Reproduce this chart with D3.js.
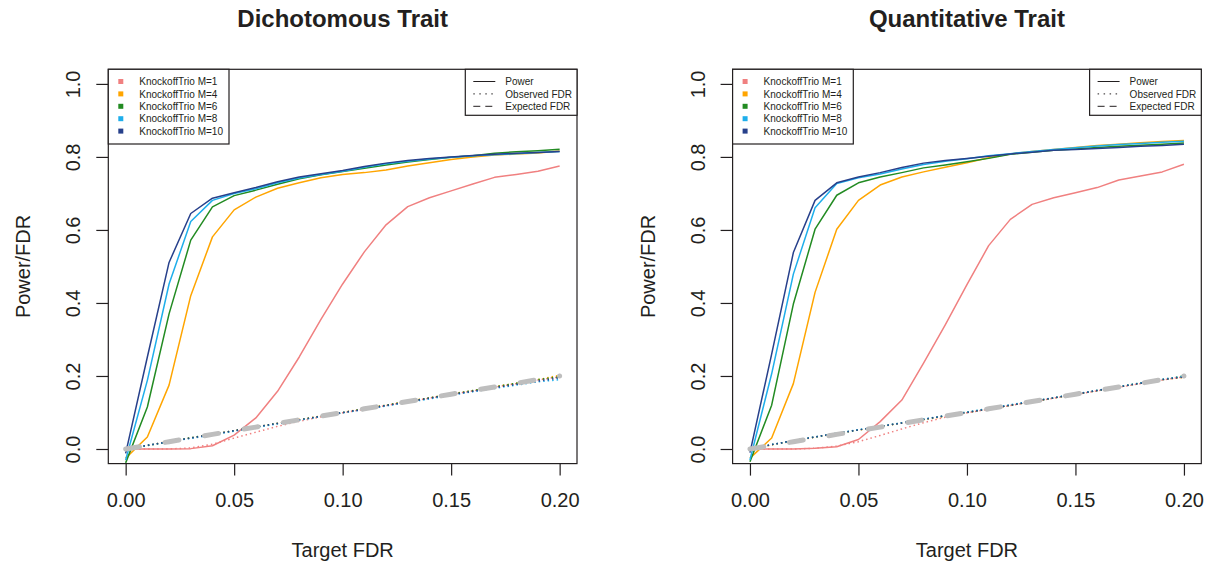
<!DOCTYPE html>
<html>
<head>
<meta charset="utf-8">
<script src="https://cdn.jsdelivr.net/npm/d3@7"></script>
<style>
  body { margin: 0; background: #fff; }
  svg { font-family: "Liberation Sans", Arial, sans-serif; }
</style>
</head>
<body>
<svg width="1212" height="569"></svg>
<script>
// data
const targetFDR = [0, 0.01, 0.02, 0.03, 0.04, 0.05, 0.06, 0.07, 0.08, 0.09, 0.10,
  0.11, 0.12, 0.13, 0.14, 0.15, 0.16, 0.17, 0.18, 0.19, 0.20];
const methods = ["KnockoffTrio M=1", "KnockoffTrio M=4", "KnockoffTrio M=6", "KnockoffTrio M=8", "KnockoffTrio M=10"];
const xTicks = [0, 0.05, 0.10, 0.15, 0.20];
const yTicks = [0, 0.2, 0.4, 0.6, 0.8, 1.0];
const lineTypes = ["Power", "Observed FDR", "Expected FDR"];

const dichPower = [
  [0, 0, 0, 0.001, 0.009, 0.038, 0.085, 0.158, 0.252, 0.355, 0.452, 0.54, 0.614, 0.664, 0.688, 0.707, 0.726, 0.744, 0.752, 0.761, 0.775],
  [-0.025, 0.033, 0.175, 0.42, 0.581, 0.655, 0.69, 0.714, 0.729, 0.743, 0.752, 0.757, 0.764, 0.775, 0.784, 0.793, 0.8, 0.805, 0.808, 0.811, 0.816],
  [-0.038, 0.115, 0.37, 0.572, 0.663, 0.694, 0.709, 0.725, 0.74, 0.751, 0.76, 0.769, 0.778, 0.786, 0.793, 0.799, 0.803, 0.81, 0.814, 0.817, 0.821],
  [-0.03, 0.188, 0.452, 0.623, 0.681, 0.70, 0.713, 0.729, 0.742, 0.752, 0.761, 0.772, 0.781, 0.788, 0.794, 0.799, 0.803, 0.806, 0.809, 0.812, 0.815],
  [-0.012, 0.252, 0.511, 0.645, 0.687, 0.702, 0.716, 0.732, 0.745, 0.754, 0.763, 0.774, 0.783, 0.79, 0.796, 0.80, 0.804, 0.807, 0.81, 0.812, 0.815]
];
const dichFDR = [
  [0, 0, 0, 0.003, 0.013, 0.03, 0.046, 0.062, 0.076, 0.088, 0.099, 0.109, 0.119, 0.129, 0.139, 0.149, 0.159, 0.169, 0.179, 0.189, 0.198],
  [0, 0.01, 0.021, 0.03, 0.041, 0.05, 0.061, 0.07, 0.081, 0.09, 0.1, 0.111, 0.12, 0.131, 0.14, 0.151, 0.16, 0.171, 0.18, 0.19, 0.202],
  [0, 0.009, 0.02, 0.031, 0.04, 0.05, 0.06, 0.07, 0.08, 0.09, 0.1, 0.11, 0.12, 0.13, 0.14, 0.15, 0.16, 0.17, 0.18, 0.19, 0.198],
  [0, 0.01, 0.02, 0.029, 0.039, 0.049, 0.059, 0.069, 0.079, 0.089, 0.099, 0.108, 0.118, 0.128, 0.137, 0.147, 0.157, 0.166, 0.175, 0.184, 0.19],
  [0, 0.01, 0.02, 0.03, 0.04, 0.05, 0.06, 0.07, 0.08, 0.09, 0.1, 0.109, 0.119, 0.129, 0.139, 0.149, 0.158, 0.168, 0.177, 0.186, 0.195]
];
const quantPower = [
  [0, 0, 0, 0.002, 0.006, 0.026, 0.075, 0.134, 0.235, 0.34, 0.45, 0.557, 0.629, 0.67, 0.688, 0.702, 0.716, 0.737, 0.748, 0.759, 0.78],
  [-0.025, 0.03, 0.179, 0.429, 0.602, 0.681, 0.723, 0.745, 0.759, 0.772, 0.784, 0.798, 0.808, 0.815, 0.82, 0.826, 0.831, 0.835, 0.839, 0.842, 0.845],
  [-0.035, 0.12, 0.397, 0.602, 0.695, 0.729, 0.745, 0.757, 0.77, 0.778, 0.787, 0.796, 0.807, 0.813, 0.818, 0.822, 0.826, 0.829, 0.832, 0.835, 0.838],
  [-0.03, 0.206, 0.479, 0.661, 0.727, 0.743, 0.753, 0.767, 0.779, 0.788, 0.795, 0.803, 0.809, 0.815, 0.82, 0.825, 0.83, 0.834, 0.837, 0.84, 0.843],
  [-0.01, 0.26, 0.538, 0.681, 0.729, 0.745, 0.757, 0.771, 0.783, 0.79, 0.796, 0.802, 0.808, 0.813, 0.818, 0.82, 0.823, 0.826, 0.829, 0.831, 0.835]
];
const quantFDR = [
  [0, 0, 0, 0.002, 0.008, 0.02, 0.037, 0.055, 0.072, 0.087, 0.099, 0.109, 0.119, 0.129, 0.139, 0.149, 0.159, 0.169, 0.179, 0.189, 0.198],
  [0, 0.011, 0.022, 0.032, 0.042, 0.052, 0.061, 0.071, 0.08, 0.09, 0.1, 0.11, 0.12, 0.13, 0.14, 0.15, 0.16, 0.17, 0.18, 0.19, 0.196],
  [0, 0.012, 0.023, 0.033, 0.043, 0.052, 0.062, 0.072, 0.081, 0.091, 0.101, 0.11, 0.12, 0.13, 0.14, 0.15, 0.16, 0.171, 0.181, 0.19, 0.2],
  [0, 0.012, 0.022, 0.033, 0.043, 0.053, 0.062, 0.072, 0.082, 0.091, 0.101, 0.111, 0.121, 0.131, 0.141, 0.151, 0.161, 0.171, 0.181, 0.191, 0.199],
  [0, 0.012, 0.023, 0.033, 0.043, 0.052, 0.062, 0.071, 0.081, 0.091, 0.1, 0.11, 0.12, 0.13, 0.14, 0.15, 0.16, 0.17, 0.18, 0.19, 0.197]
];

const colors = ["#F08080", "#FFA500", "#228B22", "#1EAEEB", "#27408B"];
const ink = "#231F20";

const svg = d3.select("svg");

function panel(left, title, power, fdr) {
  const right = left + 468.7;
  const top = 69.3, bottom = 463.6;

  const x = d3.scaleLinear().domain([-0.008, 0.208]).range([left, right]);
  const y = d3.scaleLinear().domain([-0.04, 1.04]).range([bottom, top]);
  const line = d3.line().x((d, i) => x(targetFDR[i])).y(d => y(d));

  const g = svg.append("g");

  // power curves
  power.forEach((p, i) => {
    g.append("path").datum(p)
      .attr("d", line)
      .attr("fill", "none")
      .attr("stroke", colors[i])
      .attr("stroke-width", 1.5)
      .attr("stroke-linejoin", "round");
  });

  // observed FDR
  fdr.forEach((f, i) => {
    g.append("path").datum(f)
      .attr("d", line)
      .attr("fill", "none")
      .attr("stroke", colors[i])
      .attr("stroke-width", 1.5)
      .attr("stroke-dasharray", "1.5 3");
  });

  // expected FDR
  g.append("path").datum(targetFDR)
    .attr("d", line)
    .attr("fill", "none")
    .attr("stroke", "#BEBEBE")
    .attr("stroke-width", 5)
    .attr("stroke-linecap", "round")
    .attr("stroke-dasharray", "14 26");

  // box
  g.append("rect")
    .attr("x", left).attr("y", top)
    .attr("width", right - left).attr("height", bottom - top)
    .attr("fill", "none").attr("stroke", ink).attr("stroke-width", 1.2);

  // x axis
  const xa = g.append("g")
    .attr("transform", `translate(0,${bottom})`)
    .call(d3.axisBottom(x).tickValues(xTicks).tickFormat(d3.format(".2f")).tickSize(12).tickPadding(17));
  xa.select(".domain").remove();
  xa.selectAll("line").attr("stroke", ink).attr("stroke-width", 1.2);
  xa.selectAll("text").attr("fill", ink).attr("font-size", 20).attr("font-family", "Liberation Sans, Arial, sans-serif");

  // y axis, labels parallel to axis
  const ya = g.append("g")
    .attr("transform", `translate(${left},0)`)
    .call(d3.axisLeft(y).tickValues(yTicks).tickFormat(d3.format(".1f")).tickSize(12));
  ya.select(".domain").remove();
  ya.selectAll("line").attr("stroke", ink).attr("stroke-width", 1.2);
  ya.selectAll("text")
    .attr("fill", ink).attr("font-size", 20).attr("font-family", "Liberation Sans, Arial, sans-serif")
    .attr("text-anchor", "middle")
    .attr("x", 0).attr("y", -28).attr("dy", 0)
    .attr("transform", "rotate(-90)");

  // titles
  const cx = (left + right) / 2;
  g.append("text").attr("x", cx).attr("y", 27)
    .attr("text-anchor", "middle").attr("font-size", 24).attr("font-weight", "bold")
    .attr("fill", ink).text(title);
  g.append("text").attr("x", cx).attr("y", 557)
    .attr("text-anchor", "middle").attr("font-size", 20)
    .attr("fill", ink).text("Target FDR");
  g.append("text")
    .attr("transform", `translate(${left - 78},${(top + bottom) / 2}) rotate(-90)`)
    .attr("text-anchor", "middle").attr("font-size", 20)
    .attr("fill", ink).text("Power/FDR");

  // method legend
  const lg = g.append("g");
  lg.append("rect")
    .attr("x", left).attr("y", top)
    .attr("width", 120.7).attr("height", 74.7)
    .attr("fill", "#fff").attr("stroke", ink).attr("stroke-width", 1.2);
  const item = lg.selectAll(".item").data(methods).enter().append("g")
    .attr("transform", (d, i) => `translate(${left},${81.5 + i * 12.4})`);
  item.append("rect")
    .attr("x", 10).attr("y", -2.5).attr("width", 5).attr("height", 5)
    .attr("fill", (d, i) => colors[i]);
  item.append("text")
    .attr("x", 31).attr("y", 3.6).attr("font-size", 10).attr("fill", ink)
    .text(d => d);

  // line-type legend
  const lx = right - 111.7;
  const tg = g.append("g");
  tg.append("rect")
    .attr("x", lx).attr("y", top)
    .attr("width", right - lx).attr("height", 46)
    .attr("fill", "#fff").attr("stroke", ink).attr("stroke-width", 1.2);
  const dashes = [null, "1.5 4.5", "7 5"];
  const row = tg.selectAll(".row").data(lineTypes).enter().append("g")
    .attr("transform", (d, i) => `translate(${lx},${81.5 + i * 12.4})`);
  row.append("line")
    .attr("x1", 8).attr("x2", 30).attr("y1", 0).attr("y2", 0)
    .attr("stroke", ink).attr("stroke-width", 1)
    .attr("stroke-dasharray", (d, i) => dashes[i]);
  row.append("text")
    .attr("x", 40).attr("y", 3.6).attr("font-size", 10).attr("fill", ink)
    .text(d => d);
}

panel(108.3, "Dichotomous Trait", dichPower, dichFDR);
panel(732.6, "Quantitative Trait", quantPower, quantFDR);
</script>
</body>
</html>
